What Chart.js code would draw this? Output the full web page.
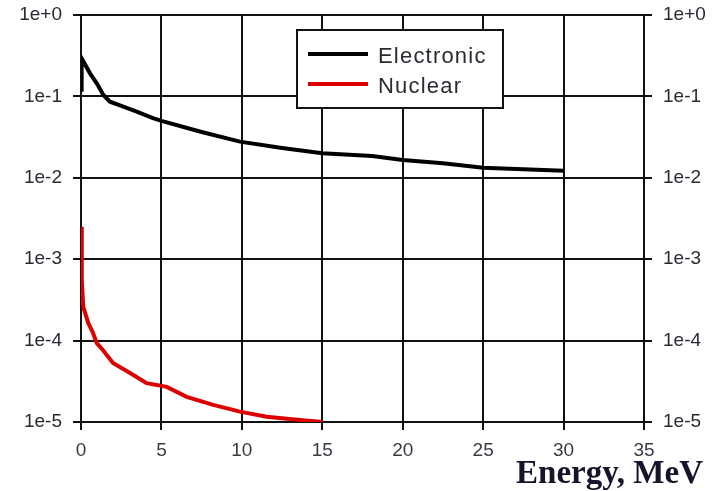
<!DOCTYPE html>
<html><head><meta charset="utf-8">
<script src="https://cdn.jsdelivr.net/npm/chart.js@4/dist/chart.umd.min.js"></script>
<style>html,body{margin:0;padding:0;background:#fff;}canvas{display:block;}</style>
</head><body>
<canvas id="c" width="712" height="491"></canvas>
<script>
const seriesNames = ['Electronic', 'Nuclear'];
const electronicEnergy = [0.04, 0.04, 0.56, 0.98, 1.39, 1.8, 2.63, 3.46, 4.47, 5, 7.5, 9.88, 12.5, 15, 18.1, 20, 22.5, 25, 27.5, 30];
const electronicValues = [0.114, 0.294, 0.192, 0.145, 0.104, 0.086, 0.075, 0.065, 0.054, 0.050, 0.0365, 0.0278, 0.0232, 0.0200, 0.0185, 0.01655, 0.0151, 0.0133, 0.0127, 0.0122];
const nuclearEnergy = [0.04, 0.05, 0.14, 0.45, 0.75, 0.98, 1.37, 1.99, 3.05, 4.08, 5.33, 6.57, 8.22, 9.88, 11.54, 13.6, 15];
const nuclearValues = [2.5e-3, 5.5e-4, 2.6e-4, 1.65e-4, 1.24e-4, 9.3e-5, 7.6e-5, 5.3e-5, 4.0e-5, 3.0e-5, 2.7e-5, 2.04e-5, 1.62e-5, 1.34e-5, 1.16e-5, 1.06e-5, 1.0e-5];
const yTickValues = [1e-5, 1e-4, 1e-3, 1e-2, 1e-1, 1];
const yTickLabels = ['1e-5', '1e-4', '1e-3', '1e-2', '1e-1', '1e+0'];
const xTickValues = [0, 5, 10, 15, 20, 25, 30, 35];
const xTitle = 'Energy, MeV';

const toPts = (xs, ys) => xs.map((x, i) => ({x: x, y: ys[i]}));
const labelFor = v => { const i = yTickValues.findIndex(t => Math.abs(Math.log10(t) - Math.log10(v)) < 1e-6); return i >= 0 ? yTickLabels[i] : ''; };
const tickFont = {family: '"Liberation Sans", Arial, sans-serif', size: 19};

const overlay = {
  id: 'overlay',
  afterDraw(chart) {
    const ctx = chart.ctx;
    ctx.save();
    ctx.fillStyle = '#fff';
    ctx.fillRect(297, 30, 206, 78);
    ctx.strokeStyle = '#111';
    ctx.lineWidth = 2;
    ctx.strokeRect(297, 30, 206, 78);
    const colors = ['#000', '#dd0000'];
    const rows = [54, 84];
    ctx.font = '22px "Liberation Sans", Arial, sans-serif';
    ctx.textBaseline = 'alphabetic';
    seriesNames.forEach((n, i) => {
      ctx.strokeStyle = colors[i];
      ctx.lineWidth = 4;
      ctx.beginPath(); ctx.moveTo(308, rows[i]); ctx.lineTo(368, rows[i]); ctx.stroke();
      ctx.fillStyle = '#2a2a33';
      ctx.letterSpacing = '1.2px';
      ctx.fillText(n, 378, rows[i] + 9);
    });
    ctx.letterSpacing = '0px';
    ctx.font = 'bold 33px "Liberation Serif", "Times New Roman", serif';
    ctx.fillStyle = '#14142a';
    ctx.textAlign = 'right';
    ctx.fillText(xTitle, 703, 483);
    ctx.restore();
  }
};

const fitY = w => s => { s.width = w; s.paddingTop = 0; s.paddingBottom = 0; };

new Chart(document.getElementById('c'), {
  type: 'line',
  data: {
    datasets: [
      {label: seriesNames[0], data: toPts(electronicEnergy, electronicValues), borderColor: '#000', borderWidth: 4, pointRadius: 0, tension: 0, fill: false, yAxisID: 'y'},
      {label: seriesNames[1], data: toPts(nuclearEnergy, nuclearValues), borderColor: '#dd0000', borderWidth: 4, pointRadius: 0, tension: 0, fill: false, yAxisID: 'y'}
    ]
  },
  options: {
    responsive: false,
    animation: false,
    events: [],
    layout: {padding: {top: 15, bottom: 0, left: 0, right: 0}},
    plugins: {legend: {display: false}, tooltip: {enabled: false}},
    scales: {
      x: {
        type: 'linear', min: 0, max: 35,
        afterBuildTicks: s => { s.ticks = xTickValues.map(v => ({value: v})); },
        afterFit: s => { s.height = 69; s.paddingLeft = 0; s.paddingRight = 0; },
        grid: {color: '#111', lineWidth: 2, tickLength: 8, drawTicks: true},
        border: {display: false},
        ticks: {color: '#3a3a44', font: tickFont, padding: 9, maxRotation: 0, callback: v => String(v)}
      },
      y: {
        type: 'logarithmic', position: 'left', min: 1e-5, max: 1,
        afterBuildTicks: s => { s.ticks = yTickValues.map(v => ({value: v})); },
        afterFit: fitY(81),
        grid: {color: '#111', lineWidth: 2, tickLength: 8},
        border: {display: false},
        ticks: {color: '#2a2a33', font: tickFont, padding: 11, callback: v => labelFor(v)}
      },
      y2: {
        type: 'logarithmic', position: 'right', min: 1e-5, max: 1,
        afterBuildTicks: s => { s.ticks = yTickValues.map(v => ({value: v})); },
        afterFit: fitY(68),
        grid: {color: '#111', lineWidth: 2, tickLength: 8, drawOnChartArea: false},
        border: {display: false},
        ticks: {color: '#2a2a33', font: tickFont, padding: 11, callback: v => labelFor(v)}
      }
    }
  },
  plugins: [overlay]
});
</script>
</body></html>
